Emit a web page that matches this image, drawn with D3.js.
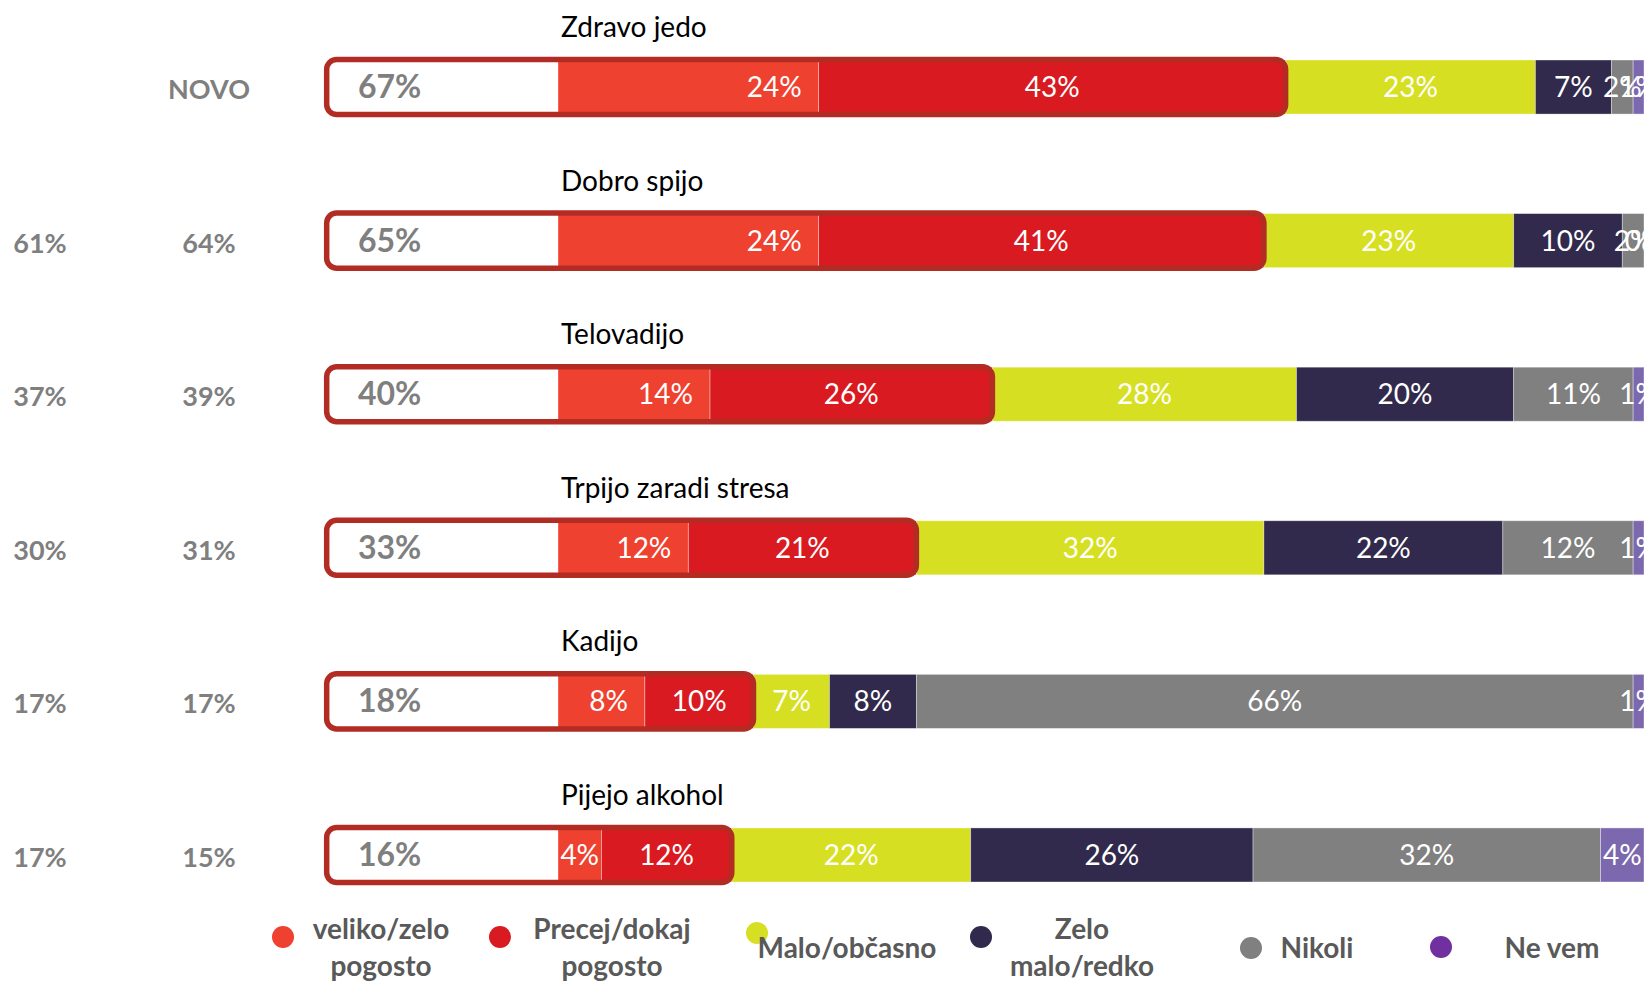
<!DOCTYPE html>
<html>
<head>
<meta charset="utf-8">
<script src="https://cdn.jsdelivr.net/npm/d3@7"></script>
<style>
  body { margin: 0; background: #fff; }
  svg { display: block; font-family: Lato, "Open Sans", sans-serif; }
</style>
</head>
<body>
<div id="container"></div>
<script>
// rows, top to bottom
const categories = ["Zdravo jedo", "Dobro spijo", "Telovadijo", "Trpijo zaradi stresa", "Kadijo", "Pijejo alkohol"];
const series = ["veliko/zelo pogosto", "Precej/dokaj pogosto", "Malo/občasno", "Zelo malo/redko", "Nikoli", "Ne vem"];
const veliko = [24, 24, 14, 12, 8, 4];
const precej = [43, 41, 26, 21, 10, 12];
const malo = [23, 23, 28, 32, 7, 22];
const zeloMalo = [7, 10, 20, 22, 8, 26];
const nikoli = [2, 2, 11, 12, 66, 32];
const neVem = [1, 0, 1, 1, 1, 4];
// total of the two "often" answers, shown in the white box
const skupaj = ["67%", "65%", "40%", "33%", "18%", "16%"];
// earlier waves, shown on the left
const prej1 = ["", "61%", "37%", "30%", "17%", "17%"];
const prej2 = ["NOVO", "64%", "39%", "31%", "17%", "15%"];

const barColors = ["#EF4130", "#D91A21", "#D7DF23", "#312A4C", "#808080", "#7B68AE"];
const legendColors = ["#EF4130", "#D91A21", "#D7DF23", "#312A4C", "#808080", "#7030A0"];

function main() {
    const width = 1644, height = 981;
    const svg = d3.select("#container")
        .append("svg")
        .attr("width", width)
        .attr("height", height);

    const values = [veliko, precej, malo, zeloMalo, nikoli, neVem];
    const rows = categories.map((c, i) => {
        let x0 = 0;
        const segs = values.map((v, s) => {
            const seg = { s: s, v: v[i], x0: x0, x1: x0 + v[i] };
            x0 += v[i];
            return seg;
        });
        return { name: c, i: i, segs: segs, often: veliko[i] + precej[i] };
    });

    const x = d3.scaleLinear().domain([0, 100]).range([558, 1644]);
    const y = d3.scaleBand()
        .domain(categories)
        .range([60, 882])
        .paddingInner(0.648)
        .paddingOuter(0);
    const bh = y.bandwidth();

    const row = svg.append("g").selectAll("g")
        .data(rows)
        .join("g")
        .attr("transform", d => `translate(0,${y(d.name)})`);

    // white box part
    row.append("rect")
        .attr("x", x(-21.3))
        .attr("width", x(0) - x(-21.3))
        .attr("height", bh)
        .attr("fill", "#fff");

    // stacked segments
    row.selectAll("rect.seg")
        .data(d => d.segs)
        .join("rect")
        .attr("class", "seg")
        .attr("x", d => x(d.x0))
        .attr("width", d => x(d.x1) - x(d.x0))
        .attr("height", bh)
        .attr("fill", d => barColors[d.s])
        .attr("stroke", "#fff")
        .attr("stroke-opacity", 0.45)
        .attr("stroke-width", 0.8);

    // red rounded outline around box + "often" answers
    row.append("rect")
        .attr("x", x(-21.3))
        .attr("y", -0.5)
        .attr("width", d => x(d.often) - x(-21.3))
        .attr("height", bh + 1)
        .attr("rx", 10)
        .attr("fill", "none")
        .attr("stroke", "#B22C24")
        .attr("stroke-width", 5.5);

    // segment labels
    const lab = row.selectAll("text.val")
        .data(d => d.segs)
        .join("text")
        .attr("class", "val")
        .attr("x", d => (x(d.x0) + x(d.x1)) / 2)
        .attr("y", bh / 2 + 10)
        .attr("text-anchor", "middle")
        .attr("fill", "#fff")
        .attr("font-size", 28)
        .text(d => d.v + "%");
    // first series label sits near the end when it has room
    lab.filter(d => d.s === 0).each(function (d) {
        const w = this.getComputedTextLength();
        if (x(d.x1) - x(d.x0) >= w + 34) {
            d3.select(this).attr("x", x(d.x1) - 17).attr("text-anchor", "end");
        }
    });

    row.append("text")
        .attr("x", 358)
        .attr("y", bh / 2 + 11)
        .attr("fill", "#7F7F7F")
        .attr("font-weight", "bold")
        .attr("font-size", 32)
        .text((d, i) => skupaj[i]);

    row.append("text")
        .attr("x", x(0) + 3)
        .attr("y", -23)
        .attr("fill", "#000")
        .attr("font-size", 28)
        .text(d => d.name);

    row.append("text")
        .attr("x", 40)
        .attr("y", bh / 2 + 12)
        .attr("text-anchor", "middle")
        .attr("fill", "#7F7F7F")
        .attr("font-weight", "bold")
        .attr("font-size", 27)
        .text((d, i) => prej1[i]);

    row.append("text")
        .attr("x", 209)
        .attr("y", bh / 2 + 12)
        .attr("text-anchor", "middle")
        .attr("fill", "#7F7F7F")
        .attr("font-weight", "bold")
        .attr("font-size", 27)
        .text((d, i) => prej2[i]);

    // legend
    const legendLines = [["veliko/zelo", "pogosto"], ["Precej/dokaj", "pogosto"], ["Malo/občasno"],
        ["Zelo", "malo/redko"], ["Nikoli"], ["Ne vem"]];
    const legendPos = [
        { dx: 283, dy: 937, tx: 381 },
        { dx: 500, dy: 937, tx: 612 },
        { dx: 757, dy: 933, tx: 847 },
        { dx: 981, dy: 937, tx: 1082 },
        { dx: 1251, dy: 948, tx: 1317 },
        { dx: 1441, dy: 947, tx: 1552 }
    ];
    const leg = svg.append("g").selectAll("g")
        .data(series)
        .join("g");
    leg.append("circle")
        .attr("cx", (d, i) => legendPos[i].dx)
        .attr("cy", (d, i) => legendPos[i].dy)
        .attr("r", 11)
        .attr("fill", (d, i) => legendColors[i]);
    leg.each(function (d, i) {
        const lines = legendLines[i];
        const t = d3.select(this).append("text")
            .attr("text-anchor", "middle")
            .attr("fill", "#595959")
            .attr("font-weight", "bold")
            .attr("font-size", 28);
        lines.forEach((l, k) => {
            t.append("tspan")
                .attr("x", legendPos[i].tx)
                .attr("y", lines.length === 1 ? 958 : 939 + k * 37)
                .text(l);
        });
    });
}
main();
</script>
</body>
</html>
